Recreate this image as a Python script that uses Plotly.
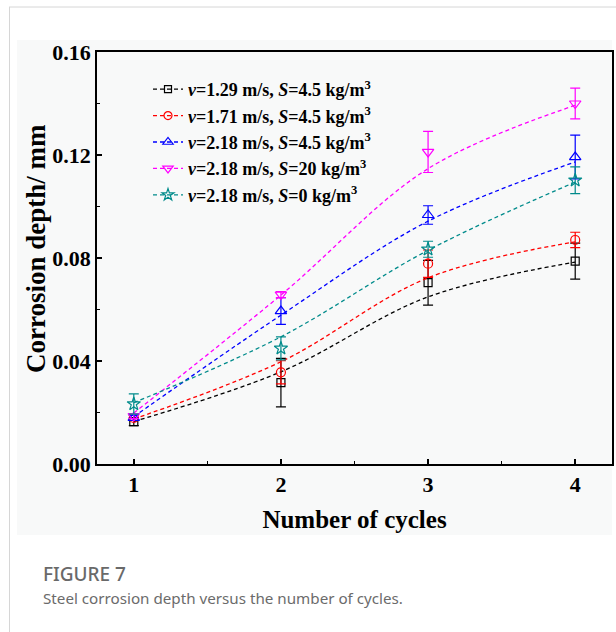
import plotly.graph_objects as go

# ---------------- data ----------------
cycles = [1, 2, 3, 4]

labels = [
    "<i>v</i>=1.29 m/s, <i>S</i>=4.5 kg/m<sup>3</sup>",
    "<i>v</i>=1.71 m/s, <i>S</i>=4.5 kg/m<sup>3</sup>",
    "<i>v</i>=2.18 m/s, <i>S</i>=4.5 kg/m<sup>3</sup>",
    "<i>v</i>=2.18 m/s, <i>S</i>=20 kg/m<sup>3</sup>",
    "<i>v</i>=2.18 m/s, <i>S</i>=0 kg/m<sup>3</sup>",
]

# measured means
depth_v129_s45 = [0.0164, 0.0316, 0.0704, 0.0788]
depth_v171_s45 = [0.0179, 0.0356, 0.0778, 0.0870]
depth_v218_s45 = [0.0179, 0.0594, 0.0967, 0.1192]
depth_v218_s20 = [0.0186, 0.0658, 0.1212, 0.1400]
depth_v218_s0 = [0.0233, 0.0449, 0.0834, 0.1102]

# error bars
err_v129_s45 = [0.0015, 0.0094, 0.0087, 0.0070]
err_v171_s45 = [0.0010, 0.0045, 0.0053, 0.0030]
err_v218_s45 = [0.0010, 0.0052, 0.0036, 0.0085]
err_v218_s20 = [0.0010, 0.0012, 0.0080, 0.0060]
err_v218_s0 = [0.0039, 0.0045, 0.0031, 0.0052]

# fitted curve values (dashed lines)
fit_v129_s45 = [0.0165, 0.0358, 0.0649, 0.0784]
fit_v171_s45 = [0.0175, 0.0397, 0.0723, 0.0863]
fit_v218_s45 = [0.0184, 0.0578, 0.0943, 0.1173]
fit_v218_s20 = [0.0198, 0.0656, 0.1147, 0.1393]
fit_v218_s0 = [0.0238, 0.0494, 0.0830, 0.1095]

x_ticks = [1, 2, 3, 4]
y_ticks = [0.00, 0.04, 0.08, 0.12, 0.16]

x_title = "Number of cycles"
y_title = "Corrosion depth/ mm"

means = [depth_v129_s45, depth_v171_s45, depth_v218_s45, depth_v218_s20, depth_v218_s0]
errs = [err_v129_s45, err_v171_s45, err_v218_s45, err_v218_s20, err_v218_s0]
fits = [fit_v129_s45, fit_v171_s45, fit_v218_s45, fit_v218_s20, fit_v218_s0]

colors = ["#000000", "#ff0000", "#0000ff", "#ff00ff", "#008b8b"]
symbols = ["square-open", "circle-open", "triangle-up-open", "triangle-down-open", "star-open"]
msizes = [8, 9, 10, 10, 10]

# ---------------- layout constants (pixels) ----------------
W, H = 616, 632
ML, MR, MT, MB = 97, 4, 52, 168
PW, PH = W - ML - MR, H - MT - MB


def px(x):
    return (x - ML) / PW


def py(y):
    return (H - MB - y) / PH


SERIF = "Liberation Serif"
DASH = "4px,3px"

fig = go.Figure()

for i in range(5):
    # fitted dashed curve
    fig.add_trace(go.Scatter(
        x=cycles, y=fits[i], mode="lines",
        line=dict(color=colors[i], width=1.3, dash=DASH, shape="spline", smoothing=1.0),
        showlegend=False, hoverinfo="skip",
    ))
    # measured points with error bars
    fig.add_trace(go.Scatter(
        x=cycles, y=means[i], mode="markers",
        marker=dict(symbol=symbols[i], size=msizes[i], color=colors[i],
                    line=dict(color=colors[i], width=1.2)),
        error_y=dict(type="data", array=errs[i], visible=True,
                     color=colors[i], thickness=1.2, width=5),
        showlegend=False,
    ))
    # legend entry
    fig.add_trace(go.Scatter(
        x=[None], y=[None], mode="lines+markers", name=labels[i],
        line=dict(color=colors[i], width=1.3, dash=DASH),
        marker=dict(symbol=symbols[i], size=msizes[i] - 1, color=colors[i],
                    line=dict(color=colors[i], width=1.2)),
    ))

shapes = [
    # light image background
    dict(type="rect", xref="paper", yref="paper",
         x0=px(17), x1=px(612), y0=py(535), y1=py(40),
         fillcolor="#f8f9f9", line=dict(width=0), layer="below"),
    # page frame lines
    dict(type="line", xref="paper", yref="paper",
         x0=px(9), x1=px(616), y0=py(7), y1=py(7),
         line=dict(color="#d6d6d6", width=1)),
    dict(type="line", xref="paper", yref="paper",
         x0=px(9.5), x1=px(9.5), y0=py(7), y1=py(632),
         line=dict(color="#d6d6d6", width=1)),
]

annotations = [
    dict(text=y_title, xref="paper", yref="paper", x=px(36), y=py(249),
         xanchor="center", yanchor="middle", textangle=-90, showarrow=False,
         font=dict(family=SERIF, size=27, color="black", weight="bold")),
    dict(text="FIGURE 7", xref="paper", yref="paper", x=px(41), y=py(574),
         xanchor="left", yanchor="middle", showarrow=False,
         font=dict(family="Noto Sans", size=19, color="#696969", weight=500)),
    dict(text="Steel corrosion depth versus the number of cycles.",
         xref="paper", yref="paper", x=px(41), y=py(598),
         xanchor="left", yanchor="middle", showarrow=False,
         font=dict(family="Noto Sans", size=15.2, color="#6b6b6b")),
]

fig.update_layout(
    width=W, height=H,
    margin=dict(l=ML, r=MR, t=MT, b=MB, autoexpand=False),
    paper_bgcolor="white",
    plot_bgcolor="rgba(0,0,0,0)",
    shapes=shapes,
    annotations=annotations,
    legend=dict(
        x=px(148), y=py(71), xanchor="left", yanchor="top",
        bgcolor="rgba(0,0,0,0)", borderwidth=0,
        font=dict(family=SERIF, size=18, color="black", weight="bold"),
        tracegroupgap=0,
    ),
    xaxis=dict(
        range=[0.75, 4.25], tickvals=x_ticks,
        ticks="inside", ticklen=5, tickwidth=1.5, tickcolor="black",
        minor=dict(dtick=0.5, ticks="inside", ticklen=3, tickwidth=1.3, tickcolor="black"),
        showline=True, linecolor="black", linewidth=1.5, mirror=True,
        showgrid=False, zeroline=False,
        tickfont=dict(family=SERIF, size=22, color="black", weight="bold"),
        title=dict(text=x_title, standoff=14,
                   font=dict(family=SERIF, size=25, color="black", weight="bold")),
    ),
    yaxis=dict(
        range=[0, 0.16], tickvals=y_ticks, tickformat=".2f",
        ticks="inside", ticklen=5, tickwidth=1.5, tickcolor="black",
        minor=dict(dtick=0.02, ticks="inside", ticklen=3, tickwidth=1.3, tickcolor="black"),
        showline=True, linecolor="black", linewidth=1.5, mirror=True,
        showgrid=False, zeroline=False,
        tickfont=dict(family=SERIF, size=22, color="black", weight="bold"),
    ),
)

fig.write_html("out.html")
